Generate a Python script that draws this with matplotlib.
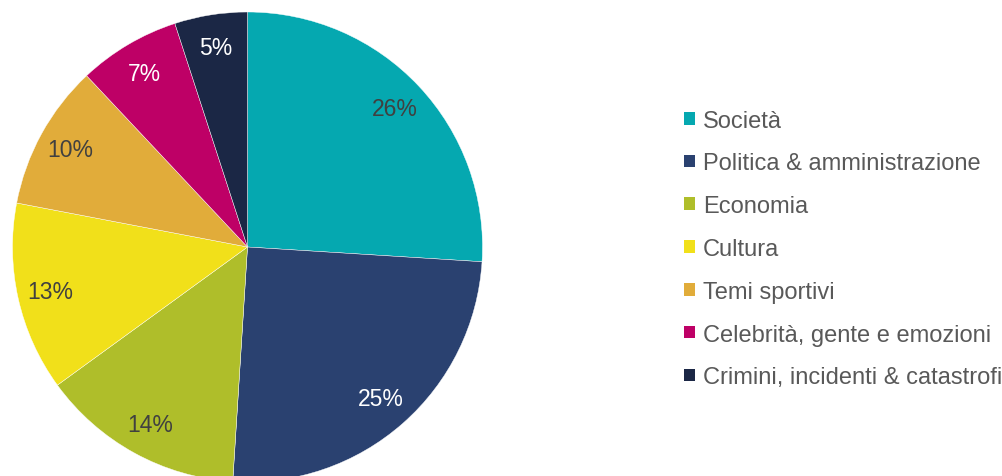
import matplotlib
matplotlib.use("Agg")
import matplotlib.pyplot as plt
from matplotlib.patches import Patch

categories = ["Società", "Politica & amministrazione", "Economia", "Cultura",
              "Temi sportivi", "Celebrità, gente e emozioni",
              "Crimini, incidenti & catastrofi"]
values = [26, 25, 14, 13, 10, 7, 5]
colors = ["#05A8B0", "#2A4170", "#AFBE2A", "#F1E01A", "#E1AC3A", "#BE0066", "#1B2745"]
label_colors = ["#404040", "white", "#404040", "#404040", "#404040", "white", "white"]

plt.rcParams['font.family'] = ['Liberation Sans', 'DejaVu Sans']

W, H = 1003, 477
fig = plt.figure(figsize=(W / 100, H / 100), dpi=100)
cx, cy, r = 247.5, 248, 235
ax = fig.add_axes([(cx - r) / W, (H - cy - r) / H, 2 * r / W, 2 * r / H])
wedges, texts, autotexts = ax.pie(values, colors=colors, startangle=90, counterclock=False,
                                  autopct='%1.0f%%', pctdistance=0.86, radius=1,
                                  wedgeprops=dict(edgecolor='white', linewidth=0.3),
                                  textprops=dict(fontsize=16.5))
for t, c in zip(autotexts, label_colors):
    t.set_color(c)
ax.set_xlim(-1, 1)
ax.set_ylim(-1, 1)
ax.set_aspect('equal')
ax.axis('off')

handles = [Patch(facecolor=c, edgecolor='none') for c in colors]
leg = fig.legend(handles, categories, loc='center left',
                 bbox_to_anchor=(684 / W, 1 - 250 / H), frameon=False,
                 fontsize=17, handlelength=0.45, handleheight=0.45,
                 handletextpad=0.34, labelspacing=0.88, borderaxespad=0,
                 borderpad=0)
for t in leg.get_texts():
    t.set_color('#595959')

fig.savefig("out.png", dpi=100)
